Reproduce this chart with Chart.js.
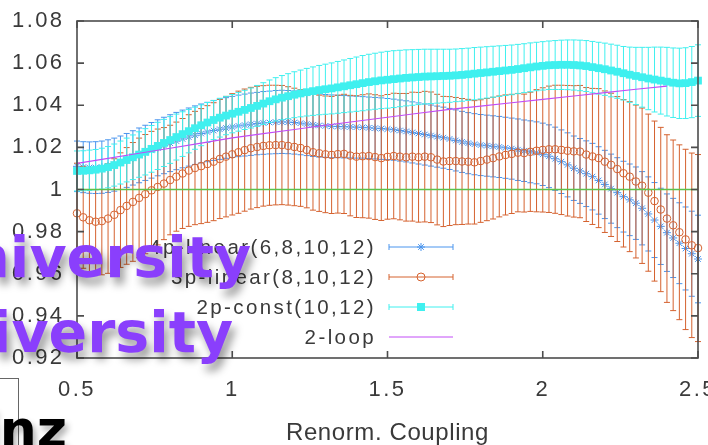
<!DOCTYPE html>
<html>
<head>
<meta charset="utf-8">
<script src="https://cdn.jsdelivr.net/npm/chart.js@4.4.1/dist/chart.umd.min.js"></script>
<style>
  html, body { margin: 0; padding: 0; background: #fff; overflow: hidden; }
  #wrap { position: relative; width: 708px; height: 445px; overflow: hidden; background: #fff; }
  #chart { position: absolute; left: 0; top: 0; }
  .uni {
    position: absolute; white-space: nowrap; line-height: 1;
    font-family: "DejaVu Sans", sans-serif; font-weight: bold; font-size: 57px;
    color: #8a3ffc; text-shadow: 4px 7px 8px rgba(0, 0, 0, 0.4);
  }
  #box { position: absolute; left: -10px; top: 378px; width: 27px; height: 80px; border: 1px solid #666; background: #fff; }
  #mainz {
    position: absolute; left: -105px; top: 403px; white-space: nowrap; line-height: 1;
    font-family: "DejaVu Sans", sans-serif; font-weight: bold; font-size: 52px;
    color: #000; text-shadow: 3px 5px 6px rgba(0, 0, 0, 0.3);
  }
</style>
</head>
<body>
<div id="wrap">
  <canvas id="chart" width="708" height="445"></canvas>
  <div class="uni" style="left:-77px; top:229px;">University</div>
  <div class="uni" style="left:-95px; top:304px;">University</div>
  <div id="box"></div>
  <div id="mainz">Mainz</div>
</div>
<script>
// coupling values shared by the three fitted series
const couplings = [
  0.50,0.52,0.54,0.56,0.58,0.60,0.62,0.64,0.66,0.68,
  0.70,0.72,0.74,0.76,0.78,0.80,0.82,0.84,0.86,0.88,
  0.90,0.92,0.94,0.96,0.98,1.00,1.02,1.04,1.06,1.08,
  1.10,1.12,1.14,1.16,1.18,1.20,1.22,1.24,1.26,1.28,
  1.30,1.32,1.34,1.36,1.38,1.40,1.42,1.44,1.46,1.48,
  1.50,1.52,1.54,1.56,1.58,1.60,1.62,1.64,1.66,1.68,
  1.70,1.72,1.74,1.76,1.78,1.80,1.82,1.84,1.86,1.88,
  1.90,1.92,1.94,1.96,1.98,2.00,2.02,2.04,2.06,2.08,
  2.10,2.12,2.14,2.16,2.18,2.20,2.22,2.24,2.26,2.28,
  2.30,2.32,2.34,2.36,2.38,2.40,2.42,2.44,2.46,2.48,
  2.50
];

// 4p-linear(6,8,10,12)
const fourPValues = [
  1.0110,1.0106,1.0104,1.0104,1.0106,1.0111,1.0118,1.0127,1.0138,1.0150,
  1.0162,1.0174,1.0186,1.0198,1.0209,1.0220,1.0230,1.0240,1.0249,1.0258,
  1.0266,1.0273,1.0280,1.0286,1.0292,1.0297,1.0302,1.0306,1.0310,1.0313,
  1.0316,1.0318,1.0320,1.0321,1.0320,1.0318,1.0315,1.0311,1.0307,1.0304,
  1.0302,1.0300,1.0299,1.0298,1.0297,1.0296,1.0295,1.0293,1.0291,1.0289,
  1.0287,1.0284,1.0280,1.0276,1.0271,1.0266,1.0261,1.0256,1.0251,1.0246,
  1.0240,1.0233,1.0226,1.0220,1.0215,1.0211,1.0208,1.0205,1.0202,1.0198,
  1.0194,1.0189,1.0184,1.0179,1.0174,1.0167,1.0158,1.0146,1.0132,1.0117,
  1.0101,1.0088,1.0075,1.0061,1.0043,1.0024,1.0004,0.9985,0.9966,0.9951,
  0.9935,0.9911,0.9884,0.9855,0.9825,0.9795,0.9770,0.9745,0.9720,0.9695,
  0.9670
];
const fourPErrors = [
  0.0120,0.0121,0.0122,0.0123,0.0124,0.0125,0.0126,0.0127,0.0128,0.0129,
  0.0130,0.0131,0.0132,0.0133,0.0134,0.0135,0.0136,0.0137,0.0138,0.0139,
  0.0140,0.0141,0.0142,0.0143,0.0144,0.0145,0.0146,0.0147,0.0148,0.0148,
  0.0149,0.0149,0.0150,0.0150,0.0150,0.0150,0.0150,0.0150,0.0150,0.0150,
  0.0149,0.0149,0.0148,0.0148,0.0147,0.0147,0.0146,0.0146,0.0146,0.0146,
  0.0145,0.0145,0.0145,0.0145,0.0145,0.0145,0.0145,0.0145,0.0145,0.0145,
  0.0145,0.0145,0.0145,0.0145,0.0145,0.0145,0.0145,0.0145,0.0145,0.0145,
  0.0145,0.0146,0.0146,0.0147,0.0147,0.0148,0.0149,0.0150,0.0151,0.0152,
  0.0153,0.0154,0.0156,0.0158,0.0160,0.0162,0.0164,0.0166,0.0168,0.0170,
  0.0172,0.0174,0.0176,0.0178,0.0181,0.0184,0.0188,0.0192,0.0197,0.0202,
  0.0208
];

// 3p-linear(8,10,12)
const threePValues = [
  0.9887,0.9868,0.9854,0.9847,0.9850,0.9862,0.9880,0.9902,0.9922,0.9941,
  0.9960,0.9978,0.9996,1.0012,1.0028,1.0045,1.0061,1.0076,1.0090,1.0102,
  1.0111,1.0121,1.0132,1.0145,1.0156,1.0167,1.0177,1.0187,1.0196,1.0202,
  1.0207,1.0210,1.0211,1.0211,1.0207,1.0202,1.0197,1.0188,1.0177,1.0172,
  1.0167,1.0164,1.0168,1.0169,1.0161,1.0156,1.0158,1.0159,1.0154,1.0149,
  1.0155,1.0159,1.0156,1.0153,1.0156,1.0153,1.0156,1.0153,1.0142,1.0133,
  1.0135,1.0135,1.0133,1.0132,1.0129,1.0135,1.0142,1.0149,1.0157,1.0164,
  1.0169,1.0175,1.0173,1.0179,1.0184,1.0188,1.0191,1.0191,1.0188,1.0184,
  1.0181,1.0180,1.0166,1.0157,1.0149,1.0132,1.0117,1.0097,1.0077,1.0061,
  1.0038,1.0018,0.9985,0.9945,0.9905,0.9862,0.9830,0.9797,0.9763,0.9735,
  0.9722
];
const threePErrors = [
  0.0238,0.0242,0.0246,0.0250,0.0255,0.0260,0.0266,0.0272,0.0277,0.0282,
  0.0284,0.0283,0.0280,0.0275,0.0266,0.0260,0.0259,0.0261,0.0265,0.0269,
  0.0273,0.0277,0.0280,0.0283,0.0286,0.0288,0.0290,0.0290,0.0289,0.0288,
  0.0286,0.0285,0.0284,0.0283,0.0281,0.0279,0.0277,0.0275,0.0275,0.0276,
  0.0277,0.0278,0.0280,0.0283,0.0286,0.0289,0.0292,0.0295,0.0296,0.0296,
  0.0296,0.0298,0.0300,0.0303,0.0306,0.0308,0.0310,0.0310,0.0310,0.0309,
  0.0306,0.0302,0.0299,0.0296,0.0293,0.0291,0.0290,0.0289,0.0287,0.0285,
  0.0283,0.0281,0.0280,0.0283,0.0290,0.0295,0.0300,0.0304,0.0307,0.0310,
  0.0312,0.0314,0.0318,0.0323,0.0330,0.0336,0.0340,0.0344,0.0350,0.0356,
  0.0363,0.0369,0.0373,0.0380,0.0390,0.0398,0.0405,0.0415,0.0428,0.0438,
  0.0444
];

// 2p-const(10,12)
const twoPValues = [
  1.0088,1.0089,1.0091,1.0094,1.0099,1.0106,1.0116,1.0128,1.0140,1.0153,
  1.0166,1.0179,1.0193,1.0207,1.0221,1.0235,1.0249,1.0263,1.0277,1.0291,
  1.0305,1.0318,1.0330,1.0341,1.0351,1.0360,1.0369,1.0378,1.0387,1.0397,
  1.0408,1.0419,1.0428,1.0436,1.0443,1.0450,1.0456,1.0462,1.0467,1.0472,
  1.0476,1.0480,1.0485,1.0490,1.0495,1.0500,1.0505,1.0510,1.0514,1.0518,
  1.0521,1.0524,1.0527,1.0530,1.0532,1.0534,1.0536,1.0537,1.0538,1.0539,
  1.0540,1.0542,1.0544,1.0547,1.0550,1.0553,1.0556,1.0559,1.0562,1.0565,
  1.0568,1.0572,1.0576,1.0580,1.0584,1.0587,1.0590,1.0591,1.0592,1.0592,
  1.0591,1.0589,1.0586,1.0581,1.0576,1.0571,1.0565,1.0559,1.0552,1.0545,
  1.0539,1.0533,1.0527,1.0522,1.0517,1.0512,1.0507,1.0504,1.0505,1.0510,
  1.0517
];
const twoPErrors = [
  0.0095,0.0095,0.0096,0.0096,0.0097,0.0098,0.0100,0.0102,0.0104,0.0106,
  0.0108,0.0110,0.0111,0.0112,0.0112,0.0111,0.0109,0.0106,0.0103,0.0100,
  0.0097,0.0095,0.0093,0.0092,0.0091,0.0091,0.0092,0.0093,0.0095,0.0097,
  0.0099,0.0101,0.0103,0.0105,0.0107,0.0109,0.0111,0.0113,0.0115,0.0117,
  0.0119,0.0121,0.0123,0.0125,0.0127,0.0129,0.0131,0.0132,0.0133,0.0134,
  0.0135,0.0135,0.0134,0.0133,0.0132,0.0131,0.0130,0.0129,0.0128,0.0127,
  0.0126,0.0125,0.0125,0.0124,0.0124,0.0123,0.0122,0.0121,0.0120,0.0119,
  0.0118,0.0117,0.0116,0.0116,0.0115,0.0115,0.0115,0.0116,0.0117,0.0118,
  0.0119,0.0120,0.0121,0.0122,0.0123,0.0124,0.0125,0.0126,0.0127,0.0131,
  0.0136,0.0142,0.0148,0.0154,0.0159,0.0163,0.0165,0.0167,0.0168,0.0169,
  0.0170
];

// 2-loop curve
const loopCouplings = [0.5,0.6,0.7,0.8,0.9,1.0,1.1,1.2,1.3,1.4,1.5,1.6,1.7,1.8,1.9,2.0,2.1,2.2,2.3,2.4];
const twoLoopValues = [1.0124,1.0148,1.0172,1.0196,1.0220,1.0245,1.0265,1.0285,1.0305,1.0324,
                       1.0343,1.0362,1.0380,1.0396,1.0412,1.0428,1.0444,1.0460,1.0476,1.0491];

// reference line at 1
const refCouplings = [0.5, 2.5];
const refValues = [1, 1];

const seriesLabels = ['4p-linear(6,8,10,12)', '3p-linear(8,10,12)', '2p-const(10,12)', '2-loop'];
const xTickLabels = ['0.5', '1', '1.5', '2', '2.5'];
const yTickLabels = ['0.92', '0.94', '0.96', '0.98', '1', '1.02', '1.04', '1.06', '1.08'];
const xTitle = 'Renorm. Coupling';

const textFont = '"Liberation Sans", Arial, Helvetica, sans-serif';
const textColor = '#3a3a3a';
const colors = { blue: '#4a95ee', orange: '#d5622f', cyan: '#3ff0ef', magenta: '#c24cf7', green: '#5cc24a' };

function points(xs, ys) {
    return xs.map((x, i) => ({ x: x, y: ys[i] }));
}

// vertical error bars with small caps, drawn just under each series' markers
const errorBarsPlugin = {
    id: 'errorBars',
    beforeDatasetDraw(chart, args) {
        const ds = chart.data.datasets[args.index];
        if (!ds.errors) return;
        const ctx = chart.ctx;
        const xs = chart.scales.x, ys = chart.scales.y;
        ctx.save();
        ctx.strokeStyle = ds.borderColor;
        ctx.lineWidth = 1;
        ctx.beginPath();
        ds.data.forEach((p, i) => {
            const px = xs.getPixelForValue(p.x);
            const top = ys.getPixelForValue(p.y + ds.errors[i]);
            const bot = ys.getPixelForValue(p.y - ds.errors[i]);
            ctx.moveTo(px, top); ctx.lineTo(px, bot);
            ctx.moveTo(px - 3, top); ctx.lineTo(px + 3, top);
            ctx.moveTo(px - 3, bot); ctx.lineTo(px + 3, bot);
        });
        ctx.stroke();
        ctx.restore();
    }
};

function drawMarker(ctx, style, color, x, y) {
    ctx.strokeStyle = color;
    ctx.fillStyle = color;
    ctx.lineWidth = 1;
    if (style === 'star') {
        const r = 4, d = r * Math.SQRT1_2;
        ctx.beginPath();
        ctx.moveTo(x - r, y); ctx.lineTo(x + r, y);
        ctx.moveTo(x, y - r); ctx.lineTo(x, y + r);
        ctx.moveTo(x - d, y - d); ctx.lineTo(x + d, y + d);
        ctx.moveTo(x - d, y + d); ctx.lineTo(x + d, y - d);
        ctx.stroke();
    } else if (style === 'circle') {
        ctx.beginPath();
        ctx.arc(x, y, 4, 0, Math.PI * 2);
        ctx.stroke();
    } else if (style === 'rect') {
        ctx.fillRect(x - 4, y - 4, 8, 8);
    }
}

// gnuplot style frame, inward ticks, key and axis title
const framePlugin = {
    id: 'frame',
    beforeDraw(chart) {
        chart.ctx.letterSpacing = '2.4px';
    },
    afterDatasetsDraw(chart) {
        const ctx = chart.ctx;
        const a = chart.chartArea;
        const xs = chart.scales.x, ys = chart.scales.y;
        ctx.save();
        ctx.strokeStyle = '#4d4d4d';
        ctx.lineWidth = 1.6;
        ctx.strokeRect(a.left, a.top, a.right - a.left, a.bottom - a.top);
        ctx.beginPath();
        xs.ticks.forEach(t => {
            const px = xs.getPixelForValue(t.value);
            ctx.moveTo(px, a.bottom); ctx.lineTo(px, a.bottom - 7);
            ctx.moveTo(px, a.top); ctx.lineTo(px, a.top + 7);
        });
        ys.ticks.forEach(t => {
            const py = ys.getPixelForValue(t.value);
            ctx.moveTo(a.left, py); ctx.lineTo(a.left + 7, py);
            ctx.moveTo(a.right, py); ctx.lineTo(a.right - 7, py);
        });
        ctx.stroke();

        // key
        ctx.font = '20.5px ' + textFont;
        ctx.textAlign = 'right';
        ctx.textBaseline = 'middle';
        const keyTop = 248, keyStep = 30, textRight = 376, sx0 = 389, sx1 = 453;
        chart.data.datasets.forEach(ds => {
            if (ds.keyRow === undefined) return;
            const ky = keyTop + ds.keyRow * keyStep;
            ctx.fillStyle = textColor;
            ctx.fillText(ds.label, textRight, ky);
            ctx.strokeStyle = ds.borderColor;
            ctx.lineWidth = 1;
            ctx.beginPath();
            ctx.moveTo(sx0, ky - 1); ctx.lineTo(sx1, ky - 1);
            if (ds.errors) {
                ctx.moveTo(sx0, ky - 4); ctx.lineTo(sx0, ky + 2);
                ctx.moveTo(sx1, ky - 4); ctx.lineTo(sx1, ky + 2);
            }
            ctx.stroke();
            if (ds.keyMarker) drawMarker(ctx, ds.keyMarker, ds.borderColor, (sx0 + sx1) / 2, ky - 1);
        });

        // x axis title
        ctx.letterSpacing = '0.6px';
        ctx.font = '24px ' + textFont;
        ctx.textAlign = 'center';
        ctx.fillStyle = textColor;
        ctx.fillText(xTitle, (a.left + a.right) / 2, 433);
        ctx.restore();
    }
};

const ctx = document.getElementById('chart').getContext('2d');
new Chart(ctx, {
    type: 'scatter',
    data: {
        datasets: [
            {
                label: seriesLabels[0], data: points(couplings, fourPValues), errors: fourPErrors,
                borderColor: colors.blue, backgroundColor: colors.blue,
                pointStyle: 'star', pointRadius: 4, borderWidth: 1,
                keyRow: 0, keyMarker: 'star', order: 5, clip: false
            },
            {
                label: seriesLabels[1], data: points(couplings, threePValues), errors: threePErrors,
                borderColor: colors.orange, backgroundColor: 'rgba(0,0,0,0)',
                pointStyle: 'circle', pointRadius: 3.8, borderWidth: 1,
                keyRow: 1, keyMarker: 'circle', order: 4, clip: false
            },
            {
                label: seriesLabels[2], data: points(couplings, twoPValues), errors: twoPErrors,
                borderColor: colors.cyan, backgroundColor: colors.cyan,
                pointStyle: 'rect', pointRadius: 5.5, borderWidth: 0,
                keyRow: 2, keyMarker: 'rect', order: 3, clip: false
            },
            {
                label: seriesLabels[3], data: points(loopCouplings, twoLoopValues),
                borderColor: colors.magenta, backgroundColor: colors.magenta,
                showLine: true, pointRadius: 0, borderWidth: 1.2,
                keyRow: 3, order: 2
            },
            {
                label: 'ref', data: points(refCouplings, refValues),
                borderColor: colors.green, backgroundColor: colors.green,
                showLine: true, pointRadius: 0, borderWidth: 1.5, order: 1
            }
        ]
    },
    options: {
        responsive: false,
        animation: false,
        events: [],
        layout: { padding: { top: 21, right: 10, left: 0, bottom: 0 } },
        plugins: { legend: { display: false }, tooltip: { enabled: false } },
        scales: {
            x: {
                type: 'linear', min: 0.5, max: 2.5,
                grid: { display: false, drawTicks: false },
                border: { display: false },
                ticks: {
                    stepSize: 0.5, padding: 19, autoSkip: false, maxRotation: 0,
                    color: textColor, font: { family: textFont, size: 22 },
                    callback: (v, i) => xTickLabels[i]
                },
                afterFit: s => { s.height = 87; s.paddingLeft = 0; s.paddingRight = 0; }
            },
            y: {
                type: 'linear', min: 0.92, max: 1.08,
                grid: { display: false, drawTicks: false },
                border: { display: false },
                ticks: {
                    stepSize: 0.02, padding: 12.5, autoSkip: false,
                    color: textColor, font: { family: textFont, size: 22 },
                    callback: (v, i) => yTickLabels[i]
                },
                afterFit: s => { s.width = 77; s.paddingTop = 0; s.paddingBottom = 0; }
            }
        }
    },
    plugins: [errorBarsPlugin, framePlugin]
});
</script>
</body>
</html>
